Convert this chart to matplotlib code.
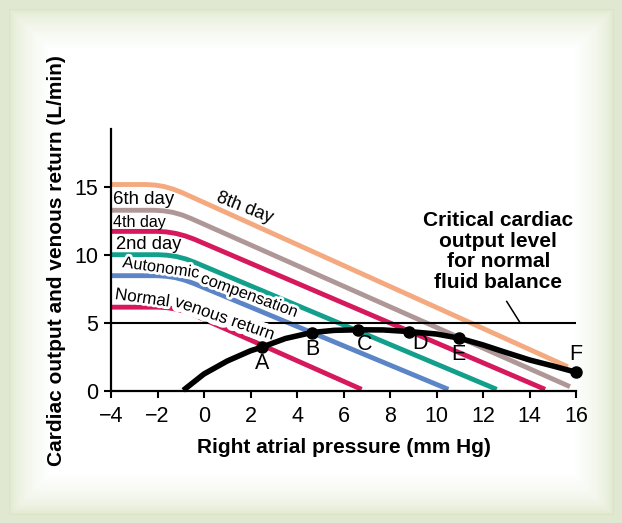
import numpy as np
import matplotlib
matplotlib.use("Agg")
import matplotlib.pyplot as plt
import matplotlib.patheffects as pe

plt.rcParams['font.family'] = ['Liberation Sans', 'DejaVu Sans']

# venous return curves (right atrial pressure, L/min)
normal_x = [-4, -1.98, -1.58, -1.18, -0.78, -0.38, 6.78]
normal_y = [6.15, 6.15, 6.11, 6.0, 5.81, 5.54, 0.12]
auto_x = [-4, -2.04, -1.64, -1.24, -0.84, -0.44, 10.51]
auto_y = [8.46, 8.46, 8.42, 8.32, 8.14, 7.89, 0.12]
day2_x = [-4, -1.97, -1.57, -1.17, -0.77, -0.37, 12.59]
day2_y = [10.0, 10.0, 9.96, 9.86, 9.68, 9.42, 0.12]
day4_x = [-4, -2.01, -1.61, -1.21, -0.81, -0.41, 14.67]
day4_y = [11.71, 11.71, 11.67, 11.56, 11.38, 11.13, 0.12]
day6_x = [-4, -2.15, -1.75, -1.35, -0.95, -0.55, 15.74]
day6_y = [13.26, 13.26, 13.22, 13.11, 12.92, 12.65, 0.32]
day8_x = [-4, -2.51, -2.11, -1.71, -1.31, -0.91, 15.65]
day8_y = [15.15, 15.15, 15.11, 15.0, 14.8, 14.53, 1.78]

# cardiac output curve
co_x = [-0.89, 0, 1, 2, 2.48, 3.5, 4.63, 5.6, 6.61, 7.7, 8.83, 10, 10.97, 12, 13, 14, 15, 16]
co_y = [0.05, 1.25, 2.2, 2.95, 3.21, 3.85, 4.29, 4.45, 4.49, 4.48, 4.36, 4.18, 3.88, 3.38, 2.82, 2.28, 1.84, 1.38]

pt_names = ['A', 'B', 'C', 'D', 'E', 'F']
pt_x = [2.48, 4.63, 6.61, 8.83, 10.97, 16.0]
pt_y = [3.21, 4.29, 4.49, 4.36, 3.88, 1.38]
lbl_x = [2.48, 4.67, 6.92, 9.29, 10.94, 16.0]
lbl_y = [1.99, 3.01, 3.38, 3.5, 2.65, 2.65]

critical_level = 5

fig = plt.figure(figsize=(6.22, 5.23), dpi=100)

# frame background
H, W = 523, 622
yy, xx = np.mgrid[0:H, 0:W]
d = np.minimum.reduce([xx - 9, W - 9 - xx, yy - 9, H - 9 - yy]).astype(float)
t = np.clip(d / 40.0, 0, 1) ** 0.5
edge = np.array([0.86, 0.90, 0.78])
img = edge[None, None, :] + (1 - edge[None, None, :]) * t[:, :, None]
img[d < 0] = np.array([0.88, 0.91, 0.82])
bg = fig.add_axes([0, 0, 1, 1])
bg.imshow(img, aspect='auto', extent=[0, 1, 0, 1])
bg.axis('off')

ax = fig.add_axes([111 / 622, 132 / 523, 465 / 622, 261.7 / 523])
ax.patch.set_alpha(0)

curves = [
    (normal_x, normal_y, '#d6185c'),
    (auto_x, auto_y, '#5b85c6'),
    (day2_x, day2_y, '#12a08c'),
    (day4_x, day4_y, '#d6185c'),
    (day6_x, day6_y, '#b09797'),
    (day8_x, day8_y, '#f4a97e'),
]
for cx, cy, col in curves:
    ax.plot(cx, cy, color=col, lw=3.5, solid_capstyle='butt', zorder=2)

ax.axhline(critical_level, color='black', lw=1.5, zorder=3)
ax.plot(co_x, co_y, color='black', lw=4, solid_capstyle='butt', zorder=4, clip_on=False)
ax.plot(pt_x, pt_y, 'o', color='black', ms=8, zorder=5, clip_on=False)
for n, x, y in zip(pt_names, lbl_x, lbl_y):
    ax.text(x, y, n, fontsize=15.5, ha='center', va='center', zorder=6)

ax.text(-3.9, 14.07, '6th day', fontsize=13.4, ha='left', va='center')
ax.text(-3.9, 12.35, '4th day', fontsize=11.6, ha='left', va='center')
ax.text(-3.78, 10.76, '2nd day', fontsize=13.2, ha='left', va='center')
ax.text(1.76, 13.43, '8th day', fontsize=13, ha='center', va='center', rotation=-21.5)

halo = [pe.withStroke(linewidth=4, foreground='white')]
ax.text(-1.85, 9.02, 'Autonomic', fontsize=11.8, ha='center', va='center', rotation=-8,
        path_effects=halo, zorder=3.5)
ax.text(1.95, 7.0, 'compensation', fontsize=11.8, ha='center', va='center', rotation=-20,
        path_effects=halo, zorder=3.5)
ax.text(-2.65, 6.8, 'Normal', fontsize=12.3, ha='center', va='center', rotation=-8,
        path_effects=halo, zorder=3.5)
ax.text(0.9, 5.3, 'venous return', fontsize=12.3, ha='center', va='center', rotation=-19,
        path_effects=[pe.withStroke(linewidth=7, foreground='white')], zorder=3.5)

ax.text(12.66, 10.24, 'Critical cardiac\noutput level\nfor normal\nfluid balance', fontsize=15,
        fontweight='bold', ha='center', va='center', linespacing=1.12)
ax.plot([13.02, 13.59], [6.57, 5.02], color='black', lw=1.1)

ax.set_xlim(-4, 16)
ax.set_ylim(0, 19.2)
ax.set_xticks(np.arange(-4, 17, 2))
ax.set_yticks([0, 5, 10, 15])
ax.tick_params(direction='out', length=5, width=1.5, labelsize=15.5)
ax.tick_params(axis='x', pad=6)
ax.tick_params(axis='y', pad=4)
for s in ['top', 'right']:
    ax.spines[s].set_visible(False)
for s in ['left', 'bottom']:
    ax.spines[s].set_linewidth(1.6)

ax.set_xlabel('Right atrial pressure (mm Hg)', fontsize=15, fontweight='bold', labelpad=8)
ax.set_ylabel('Cardiac output and venous return (L/min)', fontsize=15, fontweight='bold')
ax.yaxis.set_label_coords(-0.097, 0.5)

fig.savefig('out.png', dpi=100)
